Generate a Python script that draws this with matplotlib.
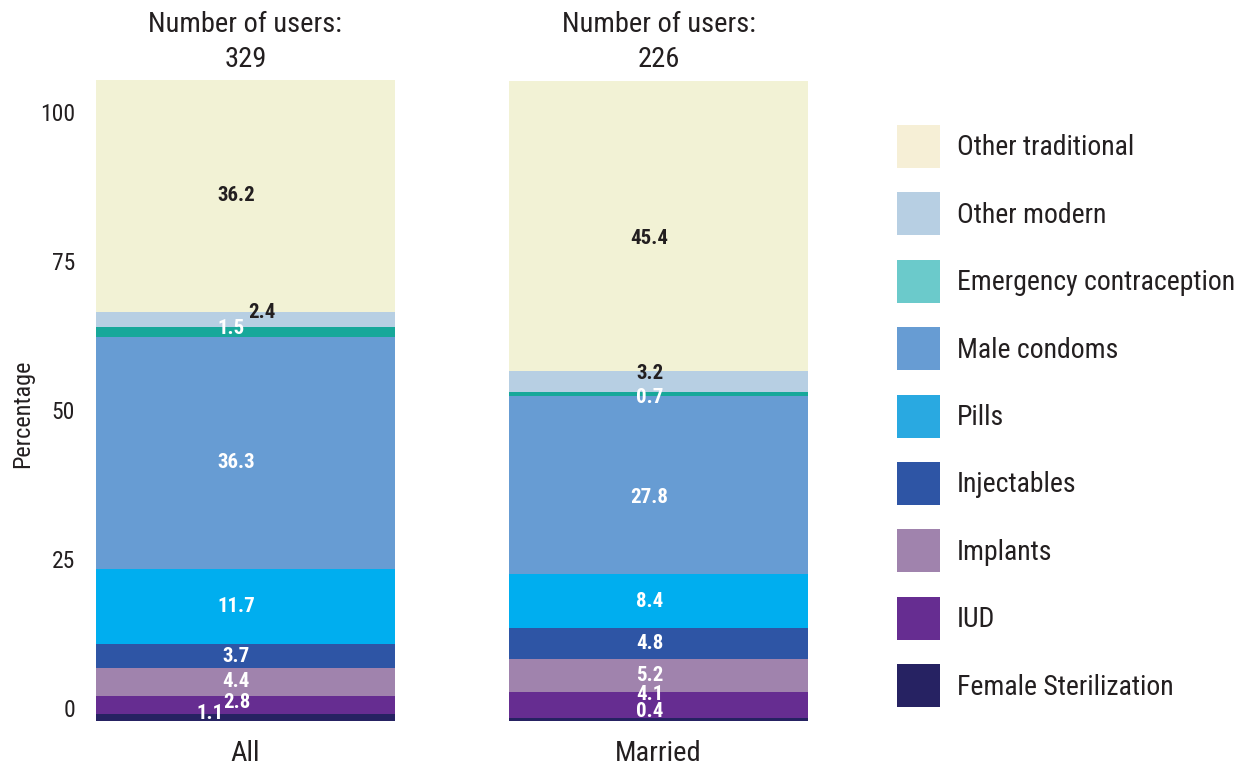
import matplotlib
matplotlib.use("Agg")
import matplotlib.pyplot as plt
from matplotlib.patches import Patch
import numpy as np

plt.rcParams['font.family'] = ['Roboto Condensed', 'DejaVu Sans']

# data, stacked bottom -> top
groups = ["All", "Married"]
users = [329, 226]
methods = ["Female Sterilization", "IUD", "Implants", "Injectables", "Pills",
           "Male condoms", "Emergency contraception", "Other modern", "Other traditional"]
values = {
    "All":     [1.1, 2.8, 4.4, 3.7, 11.7, 36.3, 1.5, 2.4, 36.2],
    "Married": [0.4, 4.1, 5.2, 4.8, 8.4, 27.8, 0.7, 3.2, 45.4],
}

bar_colors = ["#262262", "#662d91", "#a083ad", "#2e55a5", "#00aeef",
              "#679cd3", "#17a89a", "#b7cfe3", "#f2f2d5"]
legend_colors = ["#262262", "#662d91", "#a083ad", "#2e55a5", "#29a9e1",
                 "#679cd3", "#6bcacb", "#b7cfe3", "#f6efd6"]
label_colors = ["white"] * 7 + ["#231f20", "#231f20"]

# manual nudges (pixels) for labels that would overlap
nudges = {
    ("All", 0): (-26, 4), ("All", 1): (0, 2), ("All", 5): (0, -9),
    ("All", 6): (-5, 3), ("All", 7): (26, 7),
    ("Married", 0): (0, 8), ("Married", 1): (0, 11), ("Married", 5): (0, -12),
    ("Married", 6): (0, -3), ("Married", 7): (0, 8), ("Married", 8): (0, -12),
}

W, H = 1249, 773
fig = plt.figure(figsize=(W / 100, H / 100), dpi=100)
ax = fig.add_axes([96 / W, 52 / H, 712 / W, 641 / H])

x = np.arange(len(groups))
width = 0.723
for gi, g in enumerate(groups):
    bottom = 0.0
    for mi, v in enumerate(values[g]):
        ax.bar(x[gi], v, width, bottom=bottom, color=bar_colors[mi], linewidth=0)
        dx, dy = nudges.get((g, mi), (0, 0))
        ax.annotate(f"{v:.1f}", (x[gi], bottom + v / 2), xytext=(-9 + dx, dy),
                    textcoords="offset pixels", ha="center", va="center",
                    fontsize=15, fontweight="bold", color=label_colors[mi])
        bottom += v
    ax.annotate(f"Number of users:\n{users[gi]}", (x[gi], 1), xycoords=("data", "axes fraction"),
                xytext=(0, 7), textcoords="offset pixels", ha="center", va="bottom",
                fontsize=20.5, color="#231f20", linespacing=1.38)

ax.set_xlim(-width / 2, 1 + width / 2)
ax.set_ylim(0, 100.1)
ax.set_xticks(x, groups)
ax.tick_params(axis="x", length=0, pad=14, labelsize=20.5, labelcolor="#231f20")
ax.set_yticks([])
for s in ax.spines.values():
    s.set_visible(False)

# percentage scale drawn on its own axis
ax2 = ax.twinx()
ax2.set_ylim(-2.18, 105.4)
ax2.yaxis.set_ticks_position("left")
ax2.set_yticks([0, 25, 50, 75, 100])
ax2.tick_params(axis="y", length=0, pad=15, labelsize=17, labelcolor="#231f20")
for s in ax2.spines.values():
    s.set_visible(False)

fig.text(23 / W, 1 - 414 / H, "Percentage", rotation=90, ha="center", va="center",
         fontsize=17.5, color="#231f20")

handles = [Patch(facecolor=c, edgecolor="none") for c in legend_colors[::-1]]
fig.legend(handles, methods[::-1], loc="upper left", bbox_to_anchor=(897 / W, 1 - 125 / H),
           frameon=False, fontsize=20, handlelength=1.55, handleheight=2.0,
           handletextpad=0.6, labelspacing=0.882, borderpad=0, borderaxespad=0,
           labelcolor="#231f20")

fig.savefig("out.png", dpi=100)
